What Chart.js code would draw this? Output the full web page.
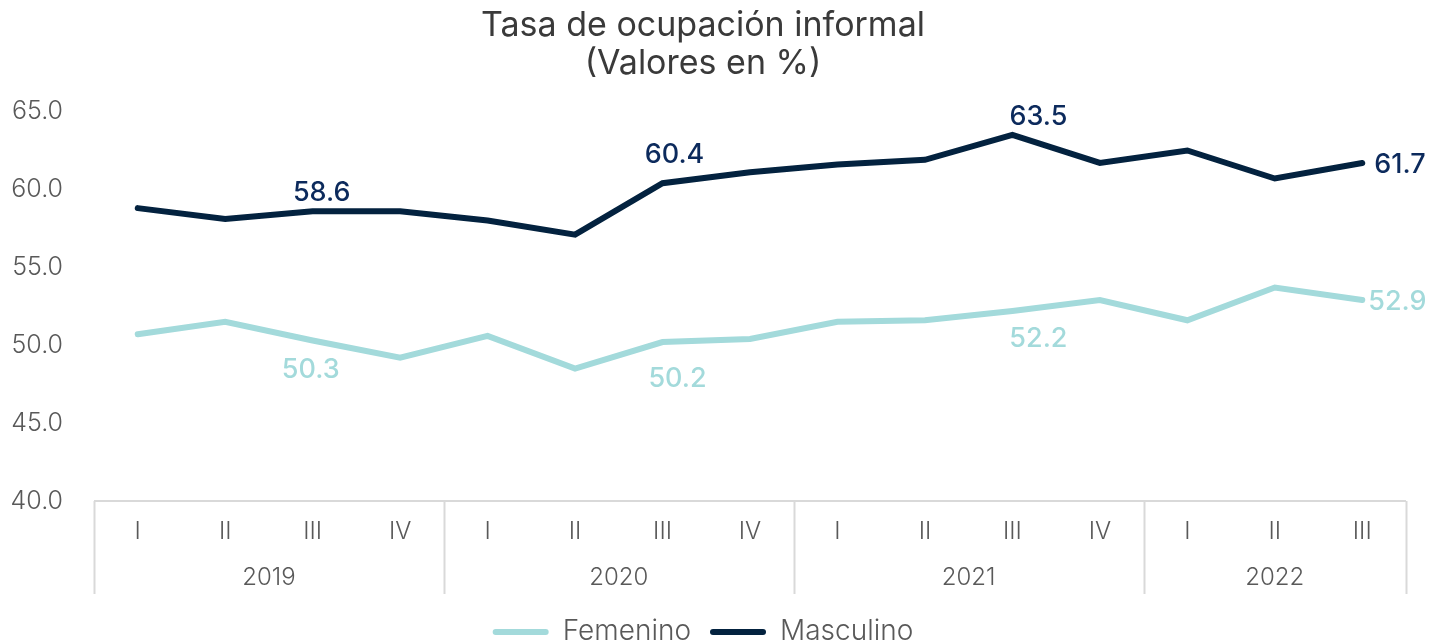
<!DOCTYPE html>
<html>
<head>
<meta charset="utf-8">
<script src="https://cdn.jsdelivr.net/npm/chart.js@4/dist/chart.umd.min.js"></script>
<style>
  html, body { margin: 0; padding: 0; background: #ffffff; }
  #wrap { width: 1432px; height: 644px; position: relative; }
</style>
</head>
<body>
<div id="wrap"><canvas id="c" width="1432" height="644"></canvas></div>
<script>
// ---- Data ----
const quarters = ['I','II','III','IV','I','II','III','IV','I','II','III','IV','I','II','III'];
const years = ['2019','2020','2021','2022'];
const yearSpans = [4, 4, 4, 3];
const femenino  = [50.7, 51.5, 50.3, 49.2, 50.6, 48.5, 50.2, 50.4, 51.5, 51.6, 52.2, 52.9, 51.6, 53.7, 52.9];
const masculino = [58.8, 58.1, 58.6, 58.6, 58.0, 57.1, 60.4, 61.1, 61.6, 61.9, 63.5, 61.7, 62.5, 60.7, 61.7];
const yTicks = [40, 45, 50, 55, 60, 65];
const labeledIdx = [2, 6, 10, 14];

const FONT = "Inter, 'Open Sans', sans-serif";
const FEM_COLOR = '#a3dadb';
const MAS_COLOR = '#03223f';
const MAS_LABEL = '#0c2a5c';
const GREY = '#595959';
const AXIS_LINE = '#d9d9d9';

// label offsets (relative to point) for value labels
const masOffsets = [ {dx: 9, dy: -18, align: 'center'}, {dx: 12, dy: -28, align: 'center'}, {dx: 26, dy: -18, align: 'center'}, {dx: 12, dy: 2, align: 'left'} ];
const femOffsets = [ {dx: -2, dy: 29, align: 'center'}, {dx: 15, dy: 37, align: 'center'}, {dx: 26, dy: 28, align: 'center'}, {dx: 6, dy: 2, align: 'left'} ];

const multiLevelAxis = {
  id: 'multiLevelAxis',
  afterDraw(chart) {
    const ctx = chart.ctx;
    const x = chart.scales.x;
    const area = chart.chartArea;
    const n = quarters.length;
    const pix = i => x.getPixelForValue(i);
    const boundary = i => {
      if (i <= 0) return area.left;
      if (i >= n) return area.right;
      return (pix(i - 1) + pix(i)) / 2;
    };
    ctx.save();
    ctx.strokeStyle = AXIS_LINE;
    ctx.lineWidth = 2;
    ctx.beginPath();
    ctx.moveTo(area.left, area.bottom);
    ctx.lineTo(area.right, area.bottom);
    ctx.stroke();
    let start = 0;
    const sepIdx = [0];
    yearSpans.forEach(s => { start += s; sepIdx.push(start); });
    sepIdx.forEach(i => {
      const bx = Math.round(boundary(i)) + 0.5;
      ctx.beginPath();
      ctx.moveTo(bx, area.bottom);
      ctx.lineTo(bx, area.bottom + 93);
      ctx.stroke();
    });
    ctx.fillStyle = GREY;
    ctx.font = "300 24px " + FONT;
    ctx.textAlign = 'center';
    ctx.textBaseline = 'middle';
    quarters.forEach((q, i) => ctx.fillText(q, pix(i), area.bottom + 31));
    start = 0;
    years.forEach((y, k) => {
      const a = boundary(start), b = boundary(start + yearSpans[k]);
      ctx.fillText(y, (a + b) / 2, area.bottom + 77);
      start += yearSpans[k];
    });
    ctx.restore();
  }
};

const valueLabels = {
  id: 'valueLabels',
  afterDatasetsDraw(chart) {
    const ctx = chart.ctx;
    const x = chart.scales.x, y = chart.scales.y;
    ctx.save();
    ctx.font = "500 27px " + FONT;
    ctx.textBaseline = 'middle';
    const draw = (data, offsets, color) => {
      ctx.fillStyle = color;
      labeledIdx.forEach((idx, k) => {
        const o = offsets[k];
        ctx.textAlign = o.align;
        ctx.fillText(data[idx].toFixed(1), x.getPixelForValue(idx) + o.dx, y.getPixelForValue(data[idx]) + o.dy);
      });
    };
    draw(masculino, masOffsets, MAS_LABEL);
    draw(femenino, femOffsets, FEM_COLOR);
    ctx.restore();
  }
};

new Chart(document.getElementById('c'), {
  type: 'line',
  data: {
    labels: quarters.map((q, i) => q),
    datasets: [
      { label: 'Femenino', data: femenino, borderColor: FEM_COLOR, backgroundColor: FEM_COLOR, borderWidth: 6, pointRadius: 0, borderCapStyle: 'round', borderJoinStyle: 'miter', tension: 0 },
      { label: 'Masculino', data: masculino, borderColor: MAS_COLOR, backgroundColor: MAS_COLOR, borderWidth: 6, pointRadius: 0, borderCapStyle: 'round', borderJoinStyle: 'miter', tension: 0 }
    ]
  },
  options: {
    responsive: false,
    animation: false,
    layout: { padding: { left: 0, right: 26, top: 0, bottom: -12 } },
    plugins: {
      title: {
        display: true,
        text: ['Tasa de ocupación informal', '(Valores en %)'],
        color: '#3a3a3a',
        font: { family: FONT, size: 34, weight: '400', lineHeight: 1.14 },
        padding: { top: 6, bottom: 28 }
      },
      legend: {
        position: 'bottom',
        labels: {
          color: GREY,
          font: { family: FONT, size: 28, weight: '300' },
          boxWidth: 56,
          boxHeight: 6,
          useBorderRadius: true,
          borderRadius: 3,
          padding: 19,
          generateLabels(chart) {
            return Chart.defaults.plugins.legend.labels.generateLabels(chart).map(it => Object.assign(it, { lineWidth: 0, fillStyle: it.strokeStyle }));
          }
        }
      },
      tooltip: { enabled: false }
    },
    scales: {
      x: {
        offset: true,
        grid: { display: false },
        border: { display: false },
        ticks: { display: false },
        afterFit(scale) { scale.height = 98; }
      },
      y: {
        min: 40, max: 65,
        afterBuildTicks(scale) { scale.ticks = yTicks.map(v => ({ value: v })); },
        grid: { display: false },
        border: { display: false },
        ticks: {
          color: GREY,
          font: { family: FONT, size: 25, weight: '300' },
          padding: 23,
          callback: v => Number(v).toFixed(1)
        },
        afterFit(scale) { scale.width = 94; }
      }
    }
  },
  plugins: [multiLevelAxis, valueLabels]
});
</script>
</body>
</html>
